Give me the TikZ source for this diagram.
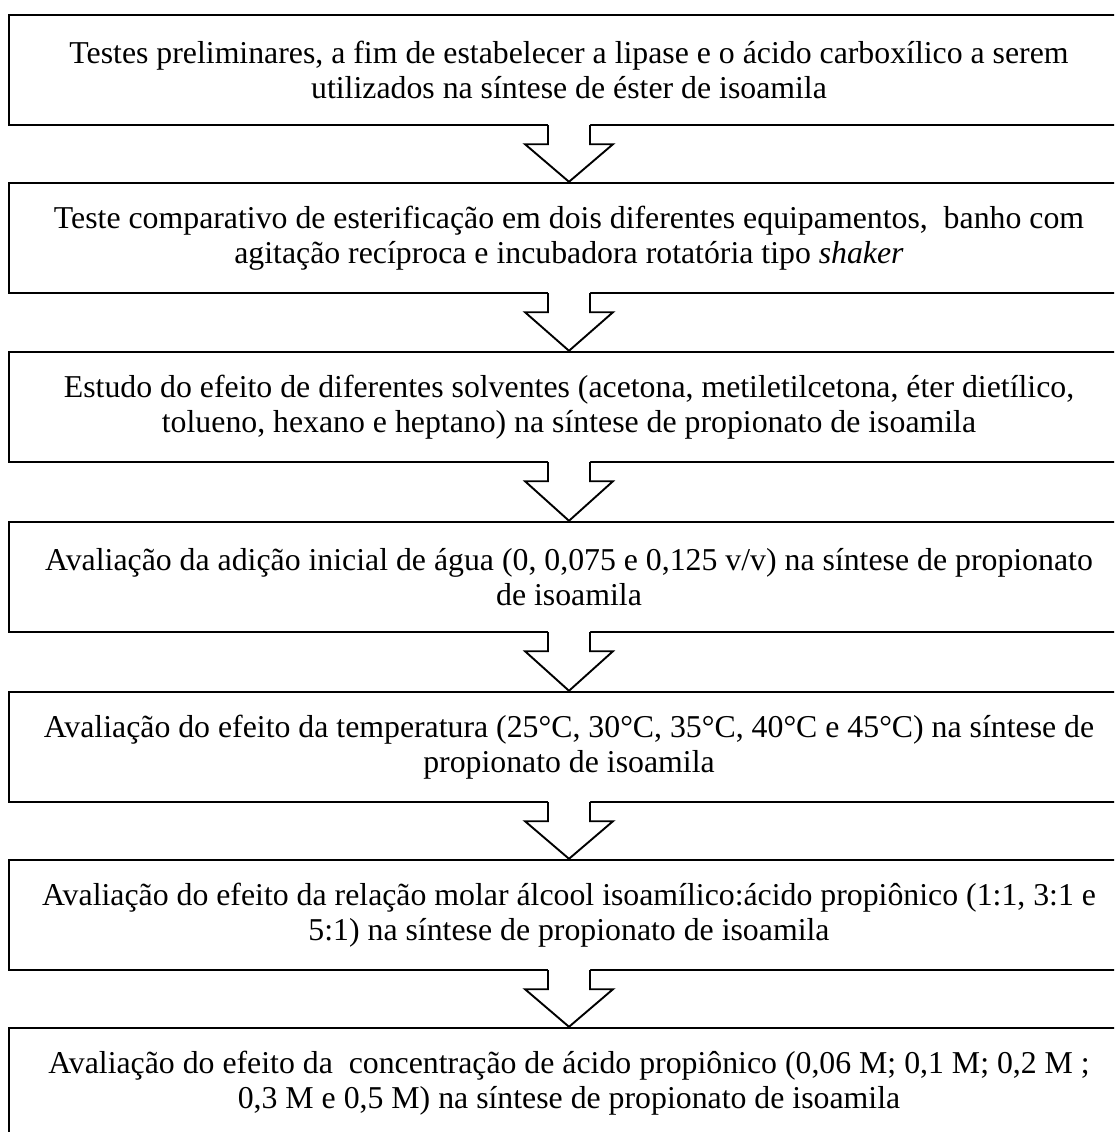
\documentclass[tikz,border=0pt]{standalone}
\usepackage{fontspec}
\setmainfont{Liberation Serif}
\begin{document}
\begin{tikzpicture}[x=1pt,y=-1pt,
  stage/.style={draw, line width=2.4pt, minimum width=1120pt, minimum height=110pt,
    align=center, inner sep=0pt, font=\fontsize{31.8}{34.5}\selectfont},
  arrowline/.style={line width=1.9pt, line join=miter}]
\clip (0,0) rectangle (1114,1132);
\fill[white] (0,0) rectangle (1114,1132);
\node[stage] (b1) at (569,70) {Testes preliminares, a fim de estabelecer a lipase e o ácido carboxílico a serem\\utilizados na síntese de éster de isoamila};
\node[stage] (b2) at (569,238) {Teste comparativo de esterificação em dois diferentes equipamentos,\ \ banho com\\agitação recíproca e incubadora rotatória tipo \textit{shaker}};
\node[stage] (b3) at (569,407) {Estudo do efeito de diferentes solventes (acetona, metiletilcetona, éter dietílico,\\tolueno, hexano e heptano) na síntese de propionato de isoamila};
\node[stage] (b4) at (569,577) {Avaliação da adição inicial de água (0, 0,075 e 0,125 v/v) na síntese de propionato\\de isoamila};
\node[stage] (b5) at (569,747) {Avaliação do efeito da temperatura (25°C, 30°C, 35°C, 40°C e 45°C) na síntese de\\propionato de isoamila};
\node[stage] (b6) at (569,915) {Avaliação do efeito da relação molar álcool isoamílico:ácido propiônico (1:1, 3:1 e\\5:1) na síntese de propionato de isoamila};
\node[stage] (b7) at (569,1083) {Avaliação do efeito da\ \ concentração de ácido propiônico (0,06 M; 0,1 M; 0,2 M ;\\0,3 M e 0,5 M) na síntese de propionato de isoamila};
\foreach \a/\b in {b1/b2,b2/b3,b3/b4,b4/b5,b5/b6,b6/b7}{
  \fill[white] ([xshift=-21pt,yshift=2pt]\a.south) -- ([xshift=-21pt,yshift=-18pt]\a.south)
    -- ([xshift=-44pt,yshift=-18pt]\a.south) -- (\b.north)
    -- ([xshift=44pt,yshift=-18pt]\a.south) -- ([xshift=21pt,yshift=-18pt]\a.south)
    -- ([xshift=21pt,yshift=2pt]\a.south) -- cycle;
  \draw[arrowline] ([xshift=-21pt,yshift=1.2pt]\a.south) -- ([xshift=-21pt,yshift=-18pt]\a.south)
    -- ([xshift=-44pt,yshift=-18pt]\a.south) -- (\b.north)
    -- ([xshift=44pt,yshift=-18pt]\a.south) -- ([xshift=21pt,yshift=-18pt]\a.south)
    -- ([xshift=21pt,yshift=1.2pt]\a.south);
}
\end{tikzpicture}
\end{document}
